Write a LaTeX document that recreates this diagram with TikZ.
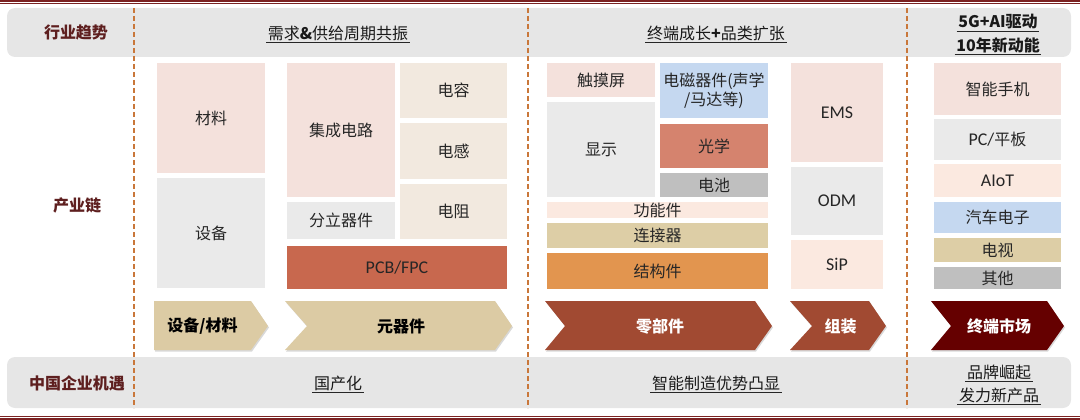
\documentclass[tikz,border=0pt]{standalone}
\usepackage{fontspec}
\setmainfont{Noto Sans CJK SC}
\newfontfamily\lat[Scale=1.12]{Carlito}
\usetikzlibrary{shadows}
\definecolor{bandgray}{HTML}{E6E6E6}
\definecolor{cpink}{HTML}{F4E1DC}
\definecolor{cgray}{HTML}{EAEAEA}
\definecolor{cbeige}{HTML}{F2E9DF}
\definecolor{cpcb}{HTML}{C8684E}
\definecolor{cblue}{HTML}{C5D8F0}
\definecolor{csalmon}{HTML}{D5836E}
\definecolor{cdgray}{HTML}{BFBFBF}
\definecolor{cpeach}{HTML}{FBE9E0}
\definecolor{ctan}{HTML}{DDCEA6}
\definecolor{corange}{HTML}{E2954F}
\definecolor{chtan}{HTML}{DCCBA4}
\definecolor{chrust}{HTML}{A14A32}
\definecolor{chdark}{HTML}{650000}
\definecolor{dashbrown}{HTML}{C9773A}
\definecolor{rulered}{HTML}{7B2222}
\definecolor{labelred}{HTML}{5E1F1F}
\begin{document}
\begin{tikzpicture}[x=1pt,y=-1pt,
  box/.style={inner sep=0pt,align=center,text=black!85,font=\fontsize{16}{19}\selectfont},
  sidelabel/.style={text=labelred,font=\bfseries\fontsize{16}{19}\selectfont},
  headline/.style={inner sep=1.5pt,text=black!90,font=\fontsize{16}{19}\selectfont},
  chevtext/.style={font=\bfseries\fontsize{16}{19}\selectfont},
  chevshadow/.style={drop shadow={shadow xshift=1pt,shadow yshift=-1.5pt,opacity=0.3}}]
\useasboundingbox (0,0) rectangle (1080,420);
% rules and bands
\draw[rulered,line width=1.6] (0,1) -- (1080,1);
\draw[rulered,line width=0.6] (0,3.8) -- (1080,3.8);
\draw[rulered,line width=0.6] (0,416) -- (1080,416);
\draw[rulered,line width=1.6] (0,419) -- (1080,419);
\fill[bandgray,rounded corners=8] (7,8) rectangle (1071,57);
\fill[bandgray,rounded corners=8] (7,357) rectangle (1071,408);
\foreach \x in {134,528,907}
  \draw[dashbrown,line width=1.2,dash pattern=on 5pt off 3pt] (\x,8) -- (\x,408);
% side labels
\node[sidelabel] (trend) at (76,33) {行业趋势};
\node[sidelabel] (chain) at (77,205) {产业链};
\node[sidelabel] (chance) at (77,383) {中国企业机遇};
% headlines, underlined
\foreach \n/\x/\y/\t in {
  hxq/338/33/{需求\textbf{\&}供给周期共振},
  hzd/716/33/{终端成长\textbf{+}品类扩张},
  hwg/998/22/{\bfseries 5G+AI驱动},
  hsn/998/45/{\bfseries 10年新动能},
  bgc/338/383/国产化,
  bzn/716/383/智能制造优势凸显,
  bpp/999/372/品牌崛起,
  bfl/999/395/发力新产品}{
\node[headline] (\n) at (\x,\y) {\t};
\draw[black!85,line width=0.8] (\n.south west) -- (\n.south east);
}
% chain boxes
\foreach \n/\xa/\ya/\xb/\yb/\c/\t in {
  cailiao/157/63/265/173/cpink/材料,
  shebei/157/178/265/288/cgray/设备,
  jicheng/287/63/395/197/cpink/集成电路,
  fenli/287/202/395/239/cgray/分立器件,
  dianrong/400/63/507/118/cbeige/电容,
  diangan/400/123/507/179/cbeige/电感,
  dianzu/400/184/507/239/cbeige/电阻,
  pcb/287/246/507/289/cpcb/{\lat PCB/FPC},
  chumo/547/63/655/97/cpink/触摸屏,
  xianshi/547/102/655/197/cgray/显示,
  dianci/660/63/768/118/cblue/{电磁器件(声学\\/马达等)},
  guangxue/660/124/768/168/csalmon/光学,
  dianchi/660/173/768/197/cdgray/电池,
  gongneng/547/202/768/218/cpeach/功能件,
  lianjie/547/223/768/248/ctan/连接器,
  jiegou/547/253/768/289/corange/结构件,
  ems/791/63/883/162/cpink/{\lat EMS},
  odm/791/167/883/235/cgray/{\lat ODM},
  sip/791/240/883/289/cpeach/{\lat SiP},
  shouji/934/63/1061/115/cpink/智能手机,
  pcpb/934/119/1061/160/cgray/{\lat PC/\rmfamily 平板},
  aiot/934/164/1061/197/cpeach/{\lat AIoT},
  qiche/934/202/1061/233/cblue/汽车电子,
  dianshi/934/238/1061/262/ctan/电视,
  qita/934/267/1061/289/cdgray/其他}{
\path[fill=\c] (\xa,\ya) rectangle (\xb,\yb);
\node[box] (\n) at ({(\xa+\xb)/2},{(\ya+\yb)/2}) {\t};
}
% chevrons
\foreach \n/\xa/\xb/\nd/\c/\tc/\t in {
  sbcl/154/268/0/chtan/black/{设备/材料},
  yqj/285/512/22/chtan/black/元器件,
  lbj/545/772/20/chrust/white/零部件,
  zuzhuang/790/886/22/chrust/white/组装,
  zdsc/931/1064/20/chdark/white/终端市场}{
\fill[\c,chevshadow] (\xa,301) -- (\xb-17,301) -- (\xb,326) -- (\xb-17,350) -- (\xa,350) -- (\xa+\nd,326) -- cycle;
\node[chevtext,text=\tc] (\n) at ({(\xa+\nd+\xb-17)/2},326) {\t};
}
\end{tikzpicture}
\end{document}
